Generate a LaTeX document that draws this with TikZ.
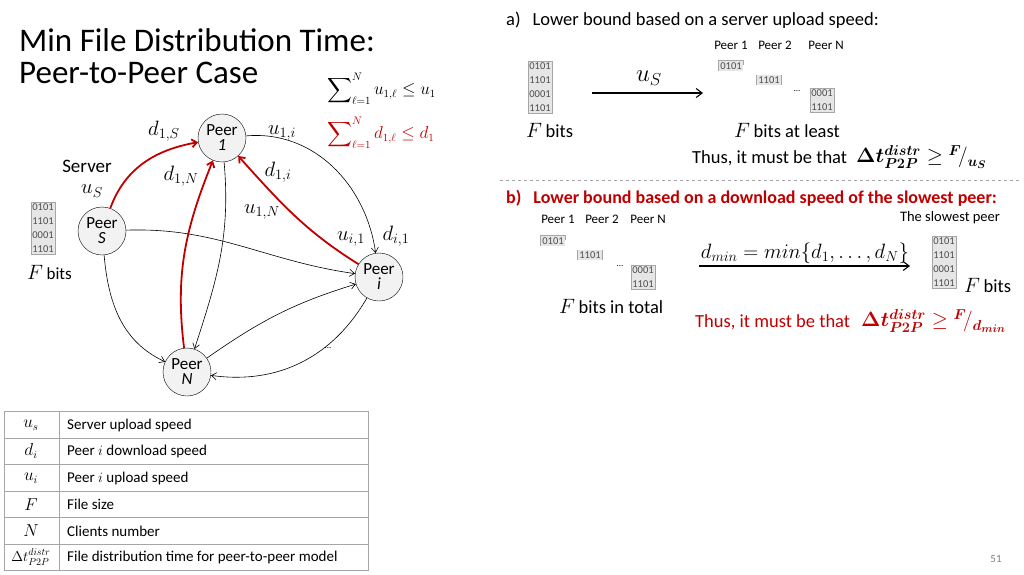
\documentclass[tikz,border=0pt]{standalone}
\usepackage{fontspec}
\setmainfont{Carlito}
\usepackage{amsmath,bm}
\usetikzlibrary{arrows.meta}
\definecolor{dred}{HTML}{C00000}
\definecolor{boxg}{HTML}{E6E6E6}
\definecolor{lineg}{HTML}{A6A6A6}
\tikzset{
  peer/.style={circle,draw,thin,fill=black!5,minimum size=48pt,inner sep=0pt,align=center,font=\fontsize{17}{15}\selectfont},
  redarr/.style={draw=dred,line width=1.8pt,-{Straight Barb[length=5pt,width=8pt]}},
  blkarr/.style={draw=black,line width=0.6pt,-{Straight Barb[length=5pt,width=7pt]}},
  lbl/.style={font=\fontsize{21}{21}\selectfont,inner sep=0pt},
  bits/.style={draw=lineg,fill=boxg,inner sep=1.5pt,align=center,font=\fontsize{10.5}{14}\selectfont,text=black!70},
  bitsf/.style={fill=boxg,inner sep=1.5pt,align=center,font=\fontsize{10.5}{14}\selectfont,text=black!70},
  small/.style={font=\fontsize{13}{13}\selectfont,inner sep=0pt},
  txt/.style={font=\fontsize{18.5}{19}\selectfont,inner sep=0pt},
  cell/.style={font=\fontsize{15}{15}\selectfont,inner sep=0pt},
  cellm/.style={font=\fontsize{16}{16}\selectfont,inner sep=0pt}
}
\begin{document}
\begin{tikzpicture}[x=1pt,y=-1pt]
\useasboundingbox (0,0) rectangle (1024,574);
% title
\node[anchor=west,font=\fontsize{33}{34}\selectfont,inner sep=0pt] (t1) at (19,40) {Min File Distribution Time:};
\node[anchor=west,font=\fontsize{33}{34}\selectfont,inner sep=0pt] (t2) at (19,73) {Peer-to-Peer Case};
% sums
\node[anchor=west,inner sep=0pt,font=\fontsize{16}{16}\selectfont] (s1) at (327,89) {$\displaystyle\sum\nolimits_{\ell=1}^{N} u_{1,\ell}\le u_1$};
\node[anchor=west,inner sep=0pt,font=\fontsize{16}{16}\selectfont,text=dred] (s2) at (327,133) {$\displaystyle\sum\nolimits_{\ell=1}^{N} d_{1,\ell}\le d_1$};
% peers
\node[peer] (P1) at (222,138) {Peer\\\textit{1}};
\node[peer] (PS) at (102,231) {Peer\\\textit{S}};
\node[peer] (Pi) at (379,277) {Peer\\\textit{i}};
\node[peer] (PN) at (187,372) {Peer\\\textit{N}};
% server labels
\node[font=\fontsize{19}{19}\selectfont,inner sep=0pt] (srv) at (87,166) {Server};
\node[lbl] (us) at (92,191) {$u_S$};
\node[bits] (fb) at (43,228) {0101\\1101\\0001\\1101};
\node[lbl,anchor=west] (fbl) at (27,272) {$F$\,\fontsize{17}{17}\selectfont bits};
% edges
\draw[redarr] (PS) to[out=70,in=190] (P1);
\draw[redarr] (PN) to[out=97,in=248] (P1);
\draw[redarr] (Pi) to[out=148,in=-48] (P1);
\draw[blkarr] (P1) to[out=5,in=98] (Pi);
\draw[blkarr] (P1) to[out=-85,in=72] (PN);
\draw[blkarr] (PS) to[out=2,in=172] (Pi);
\draw[blkarr] (PS) to[out=-85,in=155] (PN);
\draw[blkarr] (PN) to[out=35,in=197] (Pi);
\draw[blkarr] (Pi) to[out=-120,in=-8] (PN);
% edge labels
\node[lbl] (l1) at (164,131) {$d_{1,S}$};
\node[lbl] (l2) at (282,133) {$u_{1,i}$};
\node[lbl] (l3) at (181,176) {$d_{1,N}$};
\node[lbl] (l4) at (278,172) {$d_{1,i}$};
\node[lbl] (l5) at (262,212) {$u_{1,N}$};
\node[lbl] (l6) at (351,239) {$u_{i,1}$};
\node[lbl] (l7) at (396,236) {$d_{i,1}$};
\node[inner sep=0pt,font=\fontsize{9}{9}\selectfont] (dots1) at (328,348) {...};
% table
\draw[lineg,line width=0.8pt] (4,411) rectangle (368,570);
\foreach \y in {438,464.5,491,517.5,544} \draw[lineg,line width=0.8pt] (4,\y) -- (368,\y);
\draw[lineg,line width=0.8pt] (59,411) -- (59,570);
\node[cellm] (c1) at (31,425) {$u_s$};
\node[cellm] (c2) at (31,451) {$d_i$};
\node[cellm] (c3) at (31,478) {$u_i$};
\node[cellm] (c4) at (31,504.5) {$F$};
\node[cellm] (c5) at (31,531) {$N$};
\node[cellm,font=\fontsize{14}{14}\selectfont] (c6) at (31,557) {$\Delta t_{P2P}^{distr}$};
\node[cell,anchor=west] (d1) at (67,425) {Server upload speed};
\node[cell,anchor=west] (d2) at (67,451) {Peer $i$ download speed};
\node[cell,anchor=west] (d3) at (67,478) {Peer $i$ upload speed};
\node[cell,anchor=west] (d4) at (67,504.5) {File size};
\node[cell,anchor=west] (d5) at (67,531) {Clients number};
\node[cell,anchor=west] (d6) at (67,557) {File distribution time for peer-to-peer model};
% part a
\node[txt,anchor=west] (a) at (506,20) {a)\hspace{12pt}Lower bound based on a server upload speed:};
\node[bits] (fa) at (540,87) {0101\\1101\\0001\\1101};
\node[lbl,anchor=west] (fal) at (526,130) {$F$\,\fontsize{18.5}{19}\selectfont bits};
\coordinate (aS) at (592,93);
\coordinate (aE) at (703,93);
\draw[line width=1.1pt,-{Straight Barb[length=6pt,width=9pt]}] (aS) -- (aE);
\node[font=\fontsize{26}{26}\selectfont,inner sep=0pt] (aus) at (649,78) {$u_S$};
\node[small] (ap1) at (731,45) {Peer 1};
\node[small] (ap2) at (775,45) {Peer 2};
\node[small] (apn) at (826,45) {Peer N};
\node[bitsf] (ab1) at (731,66) {0101};
\draw[lineg,line width=0.9pt] (ab1.south west) -- (ab1.north west) -- (ab1.north east) -- ([yshift=-4pt]ab1.north east);
\node[bitsf] (ab2) at (769,80) {1101};
\draw[lineg,line width=0.9pt] (ab2.south west) -- (ab2.north west);
\draw[lineg,line width=0.9pt] (ab2.south east) -- (ab2.north east);
\node[inner sep=0pt,font=\fontsize{9}{9}\selectfont] (adots) at (797,91) {...};
\node[bits] (ab3) at (822,100) {0001\\1101};
\node[lbl,anchor=west] (abl) at (734,130) {$F$\,\fontsize{18.5}{19}\selectfont bits at least};
\node[txt,anchor=west] (ath) at (692,158) {Thus, it must be that};
\node[anchor=west,inner sep=0pt,font=\fontsize{21}{21}\selectfont] (aeq) at (856,157) {$\bm{\Delta t^{distr}_{P2P}} \ge {}^{\bm F}\!/_{\bm{u_S}}$};
% separator
\draw[lineg,dashed,line width=0.8pt] (500,180) -- (1020,180);
% part b
\node[txt,anchor=west,text=dred,font=\fontsize{18}{19}\selectfont\bfseries] (b) at (506,198) {b)\hspace{12pt}Lower bound based on a download speed of the slowest peer:};
\node[small] (bp1) at (558,219) {Peer 1};
\node[small] (bp2) at (602,219) {Peer 2};
\node[small] (bpn) at (648,219) {Peer N};
\node[bitsf] (bb1) at (553,241) {0101};
\draw[lineg,line width=0.9pt] (bb1.south west) -- (bb1.north west) -- (bb1.north east) -- ([yshift=-4pt]bb1.north east);
\node[bitsf] (bb2) at (590,255) {1101};
\draw[lineg,line width=0.9pt] (bb2.south west) -- (bb2.north west);
\draw[lineg,line width=0.9pt] (bb2.south east) -- (bb2.north east);
\node[inner sep=0pt,font=\fontsize{9}{9}\selectfont] (bdots) at (620,266) {...};
\node[bits] (bb3) at (643,277) {0001\\1101};
\node[lbl,anchor=west] (bbl) at (559,306) {$F$\,\fontsize{18.5}{19}\selectfont bits in total};
\coordinate (bS) at (699,266);
\coordinate (bE) at (910,266);
\draw[line width=1.1pt,-{Straight Barb[length=6pt,width=9pt]}] (bS) -- (bE);
\node[font=\fontsize{21}{21}\selectfont,inner sep=0pt] (bdm) at (805,253) {$d_{min} = min\{d_1,\ldots,d_N\}$};
\node[font=\fontsize{14.5}{15}\selectfont,inner sep=0pt] (bsl) at (950,218) {The slowest peer};
\node[bits] (bf) at (944,262) {0101\\1101\\0001\\1101};
\node[lbl,anchor=west] (bfl) at (964,285) {$F$\,\fontsize{18.5}{19}\selectfont bits};
\node[txt,anchor=west,text=dred] (bth) at (695,322) {Thus, it must be that};
\node[anchor=west,inner sep=0pt,font=\fontsize{21}{21}\selectfont,text=dred] (beq) at (861,321) {$\bm{\Delta t^{distr}_{P2P}} \ge {}^{\bm F}\!/_{\bm{d_{min}}}$};
% page number
\node[inner sep=0pt,font=\fontsize{11}{11}\selectfont,text=black!50] (pg) at (996,559) {51};
\end{tikzpicture}
\end{document}
